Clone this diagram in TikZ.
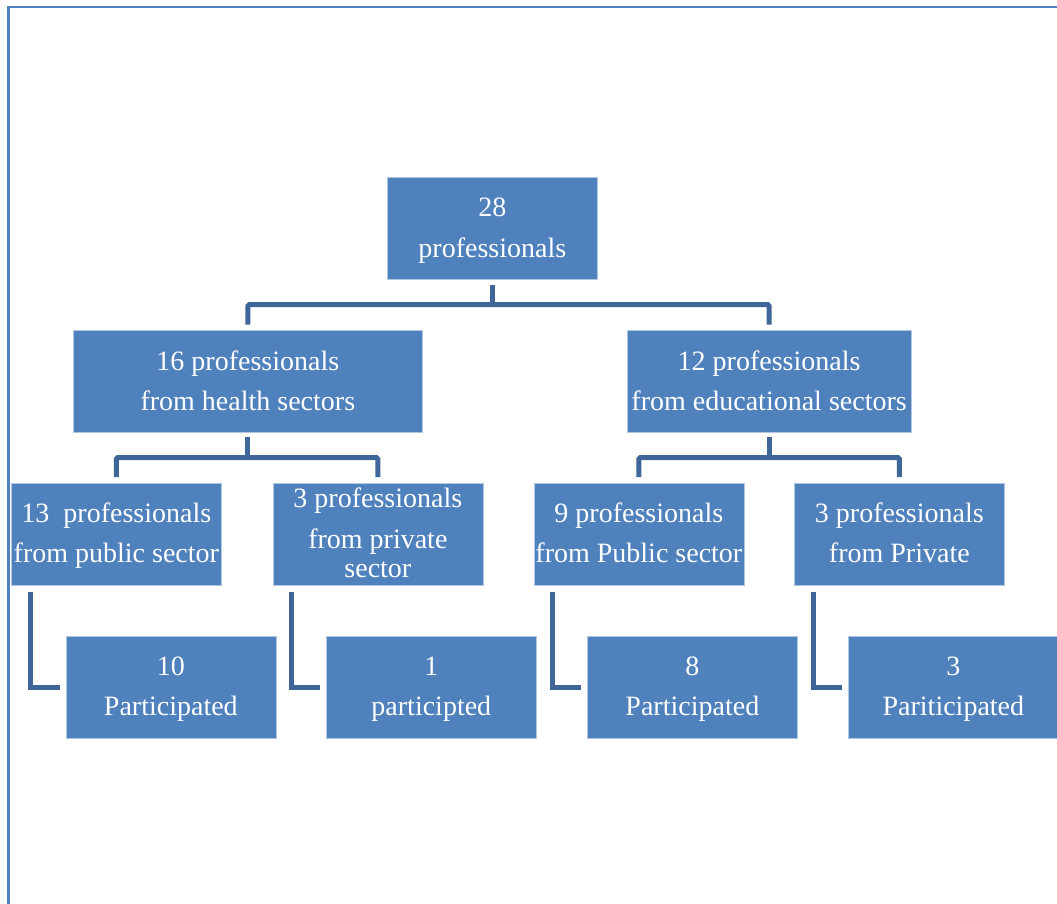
\documentclass[tikz,border=0pt]{standalone}
\usepackage{fontspec}
\setmainfont{Liberation Serif}
\definecolor{boxblue}{RGB}{79,129,189}
\definecolor{linkblue}{RGB}{62,102,152}
\definecolor{framblue}{RGB}{79,129,189}
\newcommand\capfont{\fontsize{28}{40}\selectfont}
\tikzset{
  unit/.style={fill=boxblue, draw=white!55!boxblue, line width=0.7pt,
    minimum width=#1, minimum height=102pt, inner sep=0pt, anchor=north west},
  caption/.style={text=white, font=\capfont, anchor=base, inner sep=0pt},
  link/.style={draw=linkblue, line width=5pt, rounded corners=1.5pt},
  elbow/.style={draw=linkblue, line width=5pt},
  frameline/.style={draw=framblue, line width=2.2pt},
}
\begin{document}
\begin{tikzpicture}[x=1pt, y=-1pt]
\useasboundingbox (0,0) rectangle (1057,904);
% page frame
\draw[frameline] (8.5,904) -- (8.5,7) -- (1057,7);

% boxes
\node[unit=210pt]   (root) at (387,177)   {};
\node[unit=349pt]   (hl)   at (73,329.5)  {};
\node[unit=284.5pt] (ed)   at (626.5,329.5) {};
\node[unit=210pt]   (pubh) at (11,483)    {};
\node[unit=210pt]   (prvh) at (272.5,483) {};
\node[unit=210pt]   (pube) at (533.5,483) {};
\node[unit=210pt]   (prve) at (794,483)   {};
\node[unit=210pt]   (parA) at (65.5,636)  {};
\node[unit=210pt]   (parB) at (326,636)   {};
\node[unit=210pt]   (parC) at (587,636)   {};
\node[unit=210pt]   (parD) at (848,636)   {};

% captions
\node[caption] (root-a) at ([yshift=-40pt]root.north) {28};
\node[caption] (root-b) at ([yshift=-80pt]root.north) {professionals};
\node[caption] (hl-a) at ([yshift=-40.5pt]hl.north) {16 professionals};
\node[caption] (hl-b) at ([yshift=-80.5pt]hl.north) {from health sectors};
\node[caption] (ed-a) at ([yshift=-40.5pt]ed.north) {12 professionals};
\node[caption] (ed-b) at ([yshift=-80.5pt]ed.north) {from educational sectors};
\node[caption] (pubh-a) at ([yshift=-39pt]pubh.north) {13\ \ professionals};
\node[caption] (pubh-b) at ([yshift=-79pt]pubh.north) {from public sector};
\node[caption] (prvh-a) at ([yshift=-24pt]prvh.north) {3 professionals};
\node[caption] (prvh-b) at ([yshift=-65pt]prvh.north) {from private};
\node[caption] (prvh-c) at ([yshift=-94pt]prvh.north) {sector};
\node[caption] (pube-a) at ([yshift=-39pt]pube.north) {9 professionals};
\node[caption] (pube-b) at ([yshift=-79pt]pube.north) {from Public sector};
\node[caption] (prve-a) at ([yshift=-39pt]prve.north) {3 professionals};
\node[caption] (prve-b) at ([yshift=-79pt]prve.north) {from Private};
\node[caption] (parA-a) at ([yshift=-39.5pt]parA.north) {10};
\node[caption] (parA-b) at ([yshift=-79.5pt]parA.north) {Participated};
\node[caption] (parB-a) at ([yshift=-39.5pt]parB.north) {1};
\node[caption] (parB-b) at ([yshift=-79.5pt]parB.north) {participted};
\node[caption] (parC-a) at ([yshift=-39.5pt]parC.north) {8};
\node[caption] (parC-b) at ([yshift=-79.5pt]parC.north) {Participated};
\node[caption] (parD-a) at ([yshift=-39.5pt]parD.north) {3};
\node[caption] (parD-b) at ([yshift=-79.5pt]parD.north) {Pariticipated};

% tree connectors
\draw[link] ([yshift=-5pt]root.south) -- ++(0,-20pt);
\draw[link] ([yshift=5pt]hl.north) -- ++(0,20pt) -| ([yshift=5pt]ed.north);
\draw[link] ([yshift=-5pt]hl.south) -- ++(0,-20pt);
\draw[link] ([yshift=6pt]pubh.north) -- ++(0,19.5pt) -| ([yshift=6pt]prvh.north);
\draw[link] ([yshift=-5pt]ed.south) -- ++(0,-20pt);
\draw[link] ([yshift=6pt]pube.north) -- ++(0,19.5pt) -| ([yshift=6pt]prve.north);

% elbow connectors to the participation boxes
\draw[elbow] ([xshift=19pt,yshift=-6pt]pubh.south west) |- ([xshift=-6pt]parA.west);
\draw[elbow] ([xshift=19pt,yshift=-6pt]prvh.south west) |- ([xshift=-6pt]parB.west);
\draw[elbow] ([xshift=19pt,yshift=-6pt]pube.south west) |- ([xshift=-6pt]parC.west);
\draw[elbow] ([xshift=19pt,yshift=-6pt]prve.south west) |- ([xshift=-6pt]parD.west);
\end{tikzpicture}
\end{document}
